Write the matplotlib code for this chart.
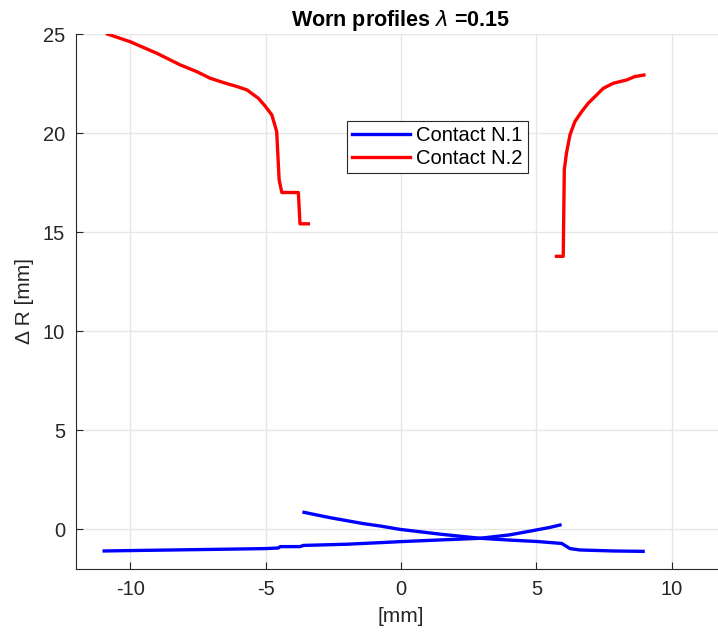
import numpy as np
import matplotlib.pyplot as plt

plt.rcParams['font.family'] = ['Liberation Sans', 'DejaVu Sans']
plt.rcParams['mathtext.fontset'] = 'dejavusans'
plt.rcParams['axes.unicode_minus'] = False

# Contact N.1 (blue) - two branches
c1a_x = [-10.96, -10.0, -6.93, -5.02, -4.53, -4.46, -3.73, -3.60, -2.0, -0.77, -0.04, 1.5, 2.92, 4.0, 5.0, 5.5, 5.87]
c1a_y = [-1.09, -1.07, -1.01, -0.97, -0.94, -0.87, -0.87, -0.81, -0.75, -0.67, -0.62, -0.53, -0.45, -0.28, -0.03, 0.1, 0.22]
c1b_x = [-3.58, -2.62, -1.39, -0.77, -0.04, 1.5, 2.92, 4.0, 5.0, 5.93, 6.1, 6.24, 6.61, 7.84, 8.94]
c1b_y = [0.86, 0.59, 0.29, 0.17, 0.0, -0.25, -0.45, -0.54, -0.61, -0.71, -0.85, -0.97, -1.04, -1.09, -1.11]

# Contact N.2 (red) - two branches
c2a_x = [-10.84, -10.0, -9.02, -8.15, -7.54, -7.05, -6.56, -6.06, -5.69, -5.27, -5.02,
         -4.77, -4.59, -4.50, -4.40, -3.79, -3.73, -3.42]
c2a_y = [25.0, 24.61, 24.03, 23.44, 23.10, 22.77, 22.55, 22.35, 22.18, 21.76, 21.37,
         20.92, 20.08, 17.64, 17.0, 17.0, 15.42, 15.42]
c2b_x = [5.74, 5.99, 6.03, 6.11, 6.24, 6.42, 6.67, 6.91, 7.16, 7.47, 7.83, 8.33, 8.63, 8.97]
c2b_y = [13.78, 13.78, 18.15, 18.99, 19.91, 20.58, 21.08, 21.50, 21.84, 22.26, 22.51,
         22.68, 22.85, 22.93]

fig = plt.figure(figsize=(7.18, 6.38), dpi=100)
ax = fig.add_axes([76 / 718, 69 / 638, 650 / 718, 535 / 638])

lw = 2.4
ax.plot(c1a_x, c1a_y, color='blue', lw=lw, label='Contact N.1')
ax.plot(c2a_x, c2a_y, color='red', lw=lw, label='Contact N.2')
ax.plot(c1b_x, c1b_y, color='blue', lw=lw)
ax.plot(c2b_x, c2b_y, color='red', lw=lw)

ax.set_xlim(-12, 12)
ax.set_ylim(-2, 25)
ax.set_xticks([-10, -5, 0, 5, 10])
ax.set_yticks([0, 5, 10, 15, 20, 25])
ax.grid(True, color='#e6e6e6', lw=1)
ax.set_axisbelow(True)
for s in ['top', 'right']:
    ax.spines[s].set_visible(False)
for s in ['left', 'bottom']:
    ax.spines[s].set_color('#262626')
ax.tick_params(direction='in', length=5, labelsize=14.5, colors='#262626',
               labelcolor='#262626', pad=8)

ax.set_xlabel('[mm]', fontsize=15, color='#262626', labelpad=6)
ax.set_ylabel('Δ R [mm]', fontsize=15, color='#262626', labelpad=6)
ax.set_title(r'Worn profiles $\lambda$ =0.15', fontsize=15.5,
             fontweight='bold', pad=6)

leg = ax.legend(loc='upper left', bbox_to_anchor=(0.4165, 0.838), borderaxespad=0,
                fontsize=14.5, fancybox=False, framealpha=1, edgecolor='#262626',
                handlelength=2.9, handletextpad=0.3, borderpad=0.25, labelspacing=0.2)
leg.get_frame().set_linewidth(0.8)

fig.savefig('out.png', dpi=100)
